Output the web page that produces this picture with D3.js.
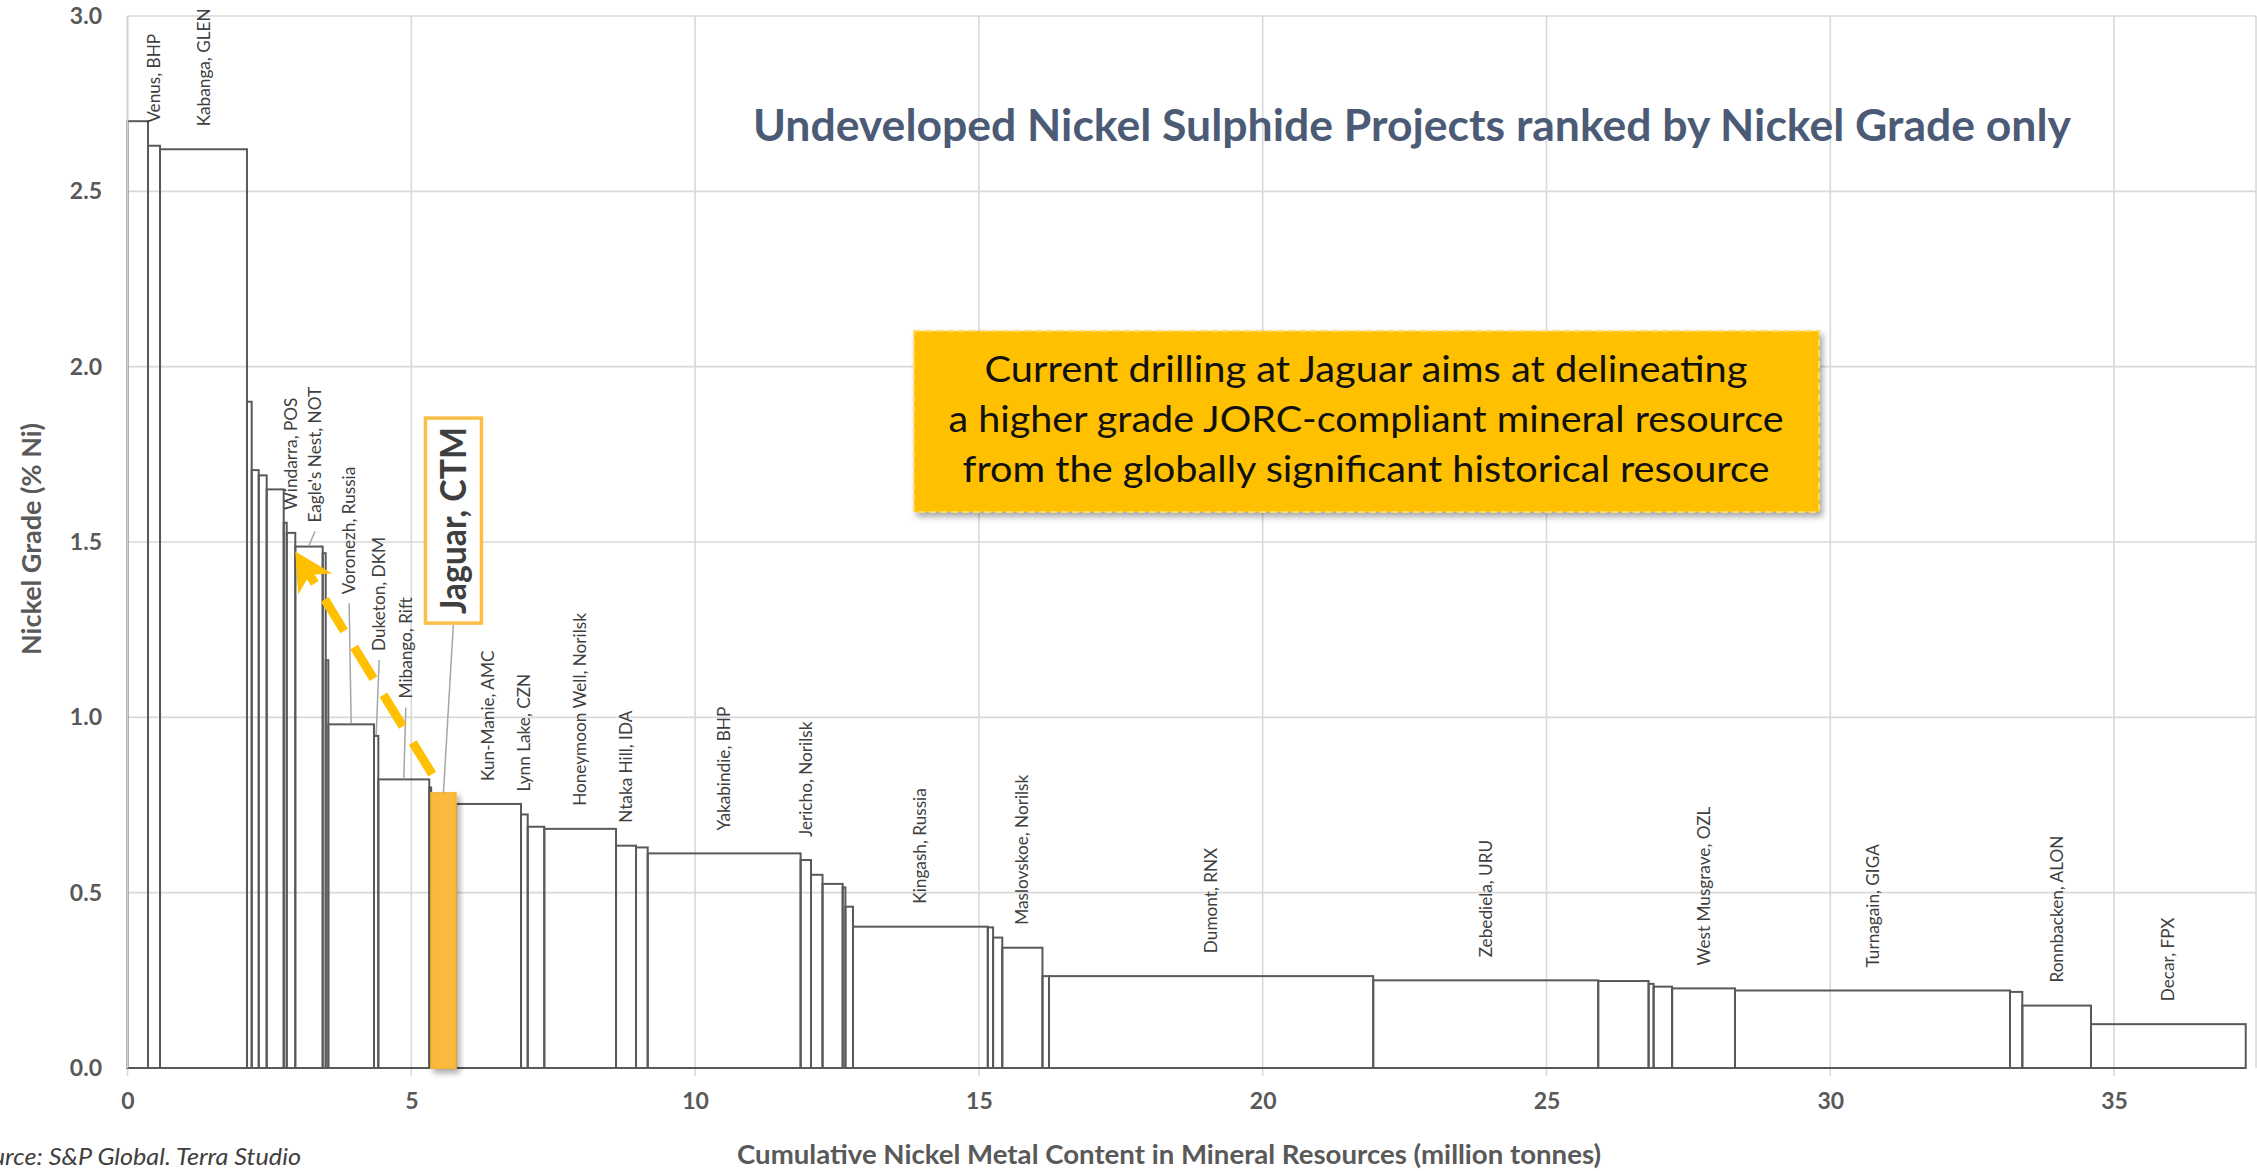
<!DOCTYPE html>
<html>
<head>
<meta charset="utf-8">
<script src="https://cdn.jsdelivr.net/npm/d3@7"></script>
<style>
  body { margin: 0; background: #fff; }
  svg text { font-family: Lato, "Open Sans", sans-serif; }
</style>
</head>
<body>
<svg id="chart" width="2257" height="1171"></svg>
<script>
// project names (blank = no data label), sorted by grade
var projects = ["", "Venus, BHP", "Kabanga, GLEN", "", "", "", "", "", "Windarra, POS", "Eagle's Nest, NOT",
  "", "", "Voronezh, Russia", "Duketon, DKM", "Mibango, Rift", "", "Jaguar, CTM", "Kun-Manie, AMC", "Lynn Lake, CZN", "",
  "Honeymoon Well, Norilsk", "Ntaka Hill, IDA", "", "Yakabindie, BHP", "Jericho, Norilsk", "", "", "", "", "Kingash, Russia",
  "", "", "Maslovskoe, Norilsk", "", "Dumont, RNX", "Zebediela, URU", "", "", "", "West Musgrave, OZL",
  "Turnagain, GIGA", "", "Ronnbacken, ALON", "Decar, FPX"];
// contained nickel metal (million tonnes)
var nickelMt = [0.361, 0.212, 1.532, 0.083, 0.124, 0.140, 0.300, 0.053, 0.151, 0.483,
  0.053, 0.046, 0.805, 0.076, 0.898, 0.033, 0.432, 1.151, 0.118, 0.292,
  1.264, 0.352, 0.206, 2.694, 0.183, 0.203, 0.355, 0.048, 0.134, 2.375,
  0.093, 0.162, 0.708, 0.115, 5.712, 3.964, 0.888, 0.088, 0.326, 1.108,
  4.845, 0.217, 1.210, 2.726];
// nickel grade (% Ni)
var grade = [2.70, 2.63, 2.62, 1.90, 1.705, 1.69, 1.65, 1.555, 1.526, 1.487,
  1.468, 1.163, 0.98, 0.947, 0.823, 0.80, 0.784, 0.753, 0.723, 0.688,
  0.682, 0.634, 0.629, 0.612, 0.593, 0.551, 0.525, 0.515, 0.46, 0.403,
  0.401, 0.372, 0.343, 0.262, 0.262, 0.250, 0.248, 0.240, 0.232, 0.227,
  0.221, 0.217, 0.178, 0.125];
var xTicks = [0, 5, 10, 15, 20, 25, 30, 35];
var yTicks = [0, 0.5, 1, 1.5, 2, 2.5, 3];
var highlight = "Jaguar, CTM";
var calloutLines = ["Current drilling at Jaguar aims at delineating",
  "a higher grade JORC-compliant mineral resource",
  "from the globally significant historical resource"];

// labels that were dragged off their bar (pixel shift + leader line)
var moved = {"Eagle's Nest, NOT": [6, -1], "Voronezh, Russia": [-2, -107],
  "Duketon, DKM": [3, -62], "Mibango, Rift": [2, -58]};

var svg = d3.select("#chart"),
    margin = {top: 16, right: 1, bottom: 103, left: 127.5},
    width = +svg.attr("width") - margin.left - margin.right,
    height = +svg.attr("height") - margin.top - margin.bottom;

var defs = svg.append("defs");
var sh = defs.append("filter").attr("id", "shadow").attr("x", "-20%").attr("y", "-20%").attr("width", "150%").attr("height", "150%");
sh.append("feDropShadow").attr("dx", 3).attr("dy", 4).attr("stdDeviation", 3).attr("flood-color", "#000").attr("flood-opacity", 0.35);
var ash = defs.append("filter").attr("id", "axshadow").attr("x", "-5%").attr("y", "-200%").attr("width", "110%").attr("height", "600%");
ash.append("feDropShadow").attr("dx", 0).attr("dy", 3).attr("stdDeviation", 2).attr("flood-color", "#000").attr("flood-opacity", 0.3);

var ends = Array.from(d3.cumsum(nickelMt));
var data = projects.map(function(p, i) {
  return {name: p, start: ends[i] - nickelMt[i], end: ends[i], grade: grade[i]};
});

var g = svg.append("g").attr("transform", "translate(" + margin.left + "," + margin.top + ")");

var x = d3.scaleLinear().domain([0, 37.5]).range([0, width]);
var y = d3.scaleLinear().domain([0, 3]).range([height, 0]);

// grid
g.selectAll(".vgrid").data(xTicks).enter().append("line")
  .attr("x1", function(d) { return x(d); }).attr("x2", function(d) { return x(d); })
  .attr("y1", 0).attr("y2", height + 8)
  .attr("stroke", "#d9d9d9").attr("stroke-width", 1.6);
g.selectAll(".hgrid").data(yTicks.slice(1)).enter().append("line")
  .attr("x1", 0).attr("x2", width)
  .attr("y1", function(d) { return y(d); }).attr("y2", function(d) { return y(d); })
  .attr("stroke", "#d9d9d9").attr("stroke-width", 1.6);
g.append("line").attr("x1", width).attr("x2", width).attr("y1", 0).attr("y2", height)
  .attr("stroke", "#d9d9d9").attr("stroke-width", 1.6);

// bars
g.selectAll(".bar")
  .data(data.filter(function(d) { return d.name != highlight; }))
  .enter().append("rect")
  .attr("x", function(d) { return x(d.start); })
  .attr("y", function(d) { return y(d.grade); })
  .attr("width", function(d) { return x(d.end) - x(d.start); })
  .attr("height", function(d) { return y(0) - y(d.grade); })
  .attr("fill", "none").attr("stroke", "#595959").attr("stroke-width", 2);

var jag = data.filter(function(d) { return d.name == highlight; })[0];
g.append("rect")
  .attr("x", x(jag.start)).attr("y", y(jag.grade))
  .attr("width", x(jag.end) - x(jag.start)).attr("height", y(0) - y(jag.grade))
  .attr("fill", "#fbba3c").attr("stroke", "#f6b536").attr("stroke-width", 2)
  .attr("filter", "url(#shadow)");

// x axis line
g.append("line").attr("x1", 0).attr("x2", width).attr("y1", height).attr("y2", height)
  .attr("stroke", "#bfbfbf").attr("stroke-width", 3).attr("filter", "url(#axshadow)");

var xAxis = g.append("g").attr("transform", "translate(0," + height + ")")
  .call(d3.axisBottom(x).tickValues(xTicks).tickSize(0).tickPadding(25));
var yAxis = g.append("g")
  .call(d3.axisLeft(y).tickValues(yTicks).tickFormat(d3.format(".1f")).tickSize(0).tickPadding(25.5));
[xAxis, yAxis].forEach(function(a) {
  a.select(".domain").remove();
  a.selectAll("text").attr("font-family", "Lato, sans-serif").attr("font-size", 23)
    .attr("font-weight", "bold").attr("fill", "#595959");
});
g.append("line").attr("x1", 0).attr("x2", 0).attr("y1", 0).attr("y2", height)
  .attr("stroke", "#d0d0d0").attr("stroke-width", 1.6);

// data labels
data.filter(function(d) { return d.name && d.name != highlight; }).forEach(function(d) {
  var mx = x((d.start + d.end) / 2), top = y(d.grade);
  var s = moved[d.name] || [0, 0];
  var lx = mx + s[0], ly = top - 23 + s[1];
  if (moved[d.name]) {
    g.append("line").attr("x1", lx).attr("y1", ly + 9).attr("x2", mx).attr("y2", top - 1)
      .attr("stroke", "#a6a6a6").attr("stroke-width", 1.5);
  }
  g.append("text")
    .attr("transform", "translate(" + lx + "," + ly + ") rotate(-90)")
    .attr("dy", "0.35em").attr("font-size", 17.2).attr("fill", "#404040")
    .text(d.name);
});

// Jaguar callout box
var jx = x((jag.start + jag.end) / 2), jt = y(jag.grade);
var bw = 56, bh = 205, bcx = jx + 10, bbot = jt - 170;
g.append("line").attr("x1", bcx).attr("y1", bbot).attr("x2", jx).attr("y2", jt)
  .attr("stroke", "#a6a6a6").attr("stroke-width", 1.5);
g.append("rect").attr("x", bcx - bw / 2).attr("y", bbot - bh).attr("width", bw).attr("height", bh)
  .attr("fill", "#fff").attr("stroke", "#fbbf47").attr("stroke-width", 3.5);
g.append("text")
  .attr("transform", "translate(" + bcx + "," + (bbot - bh / 2) + ") rotate(-90)")
  .attr("text-anchor", "middle").attr("dy", "0.36em")
  .attr("font-size", 36).attr("font-weight", "bold").attr("fill", "#3f3f3f")
  .attr("textLength", 187).attr("lengthAdjust", "spacingAndGlyphs")
  .text(highlight);

// dashed arrow from Jaguar up to the higher grade bars
var eagle = data[9];
var sx = x(jag.start) + 1, sy = jt - 19;
var tx = x(eagle.start), ty = y(eagle.grade) + 5;
var dx = tx - sx, dy = ty - sy, len = Math.sqrt(dx * dx + dy * dy);
var ux = dx / len, uy = dy / len, nx = -uy, ny = ux;
var L = 38, W = 20;
var bx = tx - ux * L, by = ty - uy * L;
var kx = tx - ux * L * 0.72, ky = ty - uy * L * 0.72;
g.append("line").attr("x1", sx).attr("y1", sy).attr("x2", kx).attr("y2", ky)
  .attr("stroke", "#ffc000").attr("stroke-width", 9).attr("stroke-dasharray", "37 19");
g.append("path")
  .attr("d", "M" + tx + "," + ty + "L" + (bx + nx * W) + "," + (by + ny * W) +
    "L" + kx + "," + ky + "L" + (bx - nx * W) + "," + (by - ny * W) + "Z")
  .attr("fill", "#ffc000");

// orange text box
var cb = svg.append("g");
cb.append("rect").attr("x", 914).attr("y", 331).attr("width", 905).attr("height", 181)
  .attr("fill", "#ffc000").attr("stroke", "#ffd966").attr("stroke-width", 2)
  .attr("stroke-dasharray", "7 4").attr("filter", "url(#shadow)");
var lineLen = [763, 835, 807];
cb.selectAll(".cl").data(calloutLines).enter().append("text")
  .attr("x", 1366).attr("y", function(d, i) { return 381.5 + i * 50; })
  .attr("text-anchor", "middle").attr("font-size", 37).attr("fill", "#111")
  .attr("textLength", function(d, i) { return lineLen[i]; }).attr("lengthAdjust", "spacingAndGlyphs")
  .text(function(d) { return d; });

// titles
svg.append("text").attr("x", 1412).attr("y", 141).attr("text-anchor", "middle")
  .attr("font-size", 44).attr("font-weight", "bold").attr("fill", "#4b5b76")
  .attr("textLength", 1318).attr("lengthAdjust", "spacingAndGlyphs")
  .text("Undeveloped Nickel Sulphide Projects ranked by Nickel Grade only");
svg.append("text").attr("x", 1169).attr("y", 1164).attr("text-anchor", "middle")
  .attr("font-size", 26).attr("font-weight", "bold").attr("fill", "#595959")
  .attr("textLength", 864).attr("lengthAdjust", "spacingAndGlyphs")
  .text("Cumulative Nickel Metal Content in Mineral Resources (million tonnes)");
svg.append("text").attr("transform", "translate(41,539) rotate(-90)").attr("text-anchor", "middle")
  .attr("font-size", 27).attr("font-weight", "bold").attr("fill", "#595959")
  .attr("textLength", 232).attr("lengthAdjust", "spacingAndGlyphs")
  .text("Nickel Grade (% Ni)");
// source note runs off the left edge, as in the original slide
svg.append("text").attr("x", -34).attr("y", 1165)
  .attr("font-size", 23).attr("font-style", "italic").attr("fill", "#404040")
  .attr("textLength", 335).attr("lengthAdjust", "spacingAndGlyphs")
  .text("Source: S&P Global. Terra Studio");
</script>
</body>
</html>
